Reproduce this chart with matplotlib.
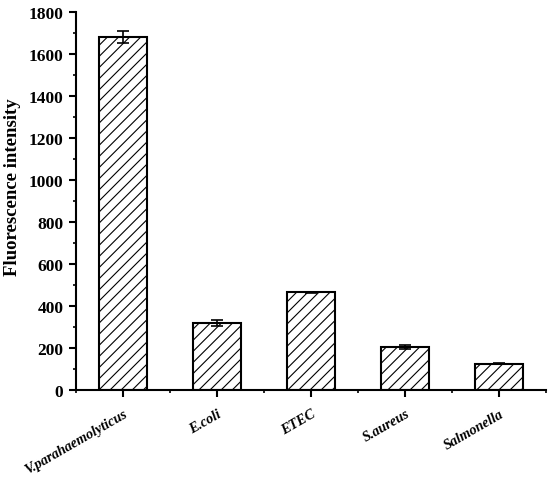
import numpy as np
import matplotlib.pyplot as plt
import matplotlib.transforms as mtransforms
from matplotlib.ticker import MultipleLocator

strains = ["V.parahaemolyticus", "E.coli", "ETEC", "S.aureus", "Salmonella"]
intensity = [1680, 320, 465, 205, 125]
err = [30, 14, 2, 8, 3]

plt.rcParams['font.family'] = ['Liberation Serif', 'DejaVu Serif']
plt.rcParams['font.weight'] = 'bold'
plt.rcParams['hatch.linewidth'] = 0.8

fig = plt.figure(figsize=(5.5, 4.81), dpi=100)
ax = fig.add_axes([0.138, 0.187, 0.855, 0.786])

x = np.arange(len(strains))
ax.bar(x, intensity, width=0.51, color='white', edgecolor='black', linewidth=1.5,
       hatch='///', yerr=err, capsize=4, error_kw=dict(elinewidth=1.2, capthick=1.2, ecolor='black'))

ax.set_xlim(-0.5, 4.5)
ax.set_ylim(0, 1800)
ax.yaxis.set_major_locator(MultipleLocator(200))
ax.yaxis.set_minor_locator(MultipleLocator(100))
ax.set_xticks(x)
ax.set_xticks(np.arange(-0.5, 5, 1), minor=True)
ax.set_xticklabels(strains, rotation=30, ha='right', va='top', rotation_mode='anchor',
                   fontstyle='italic', fontweight='bold', fontsize=10.3)
shift = mtransforms.ScaledTranslation(6 / 100, 0, fig.dpi_scale_trans)
for lab in ax.get_xticklabels():
    lab.set_transform(lab.get_transform() + shift)
for lab in ax.get_yticklabels():
    lab.set_fontsize(12.5)
    lab.set_fontweight('bold')

ax.spines['top'].set_visible(False)
ax.spines['right'].set_visible(False)
ax.spines['left'].set_linewidth(1.5)
ax.spines['bottom'].set_linewidth(1.5)
ax.tick_params(which='major', direction='out', length=5, width=1.5)
ax.tick_params(which='minor', direction='out', length=2.5, width=1.2)
ax.tick_params(axis='x', pad=7)
ax.tick_params(axis='y', pad=4)
ax.set_ylabel("Fluorescence intensity", fontsize=13.5, fontweight='bold')
ax.yaxis.set_label_coords(-0.117, 0.54)

plt.savefig("out.png", dpi=100)
